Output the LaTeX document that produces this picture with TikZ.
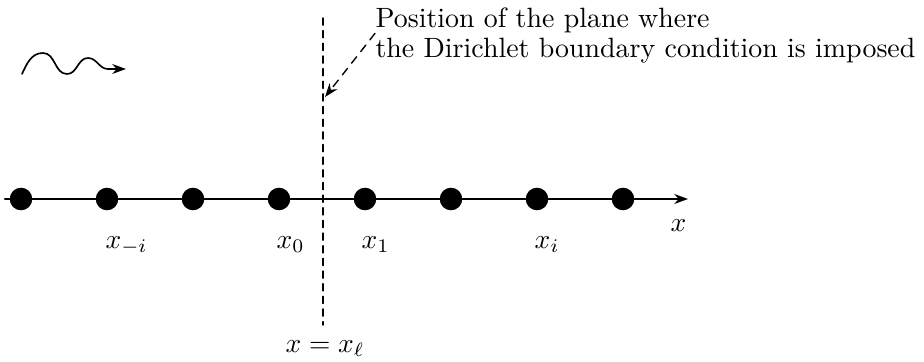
\documentclass[tikz,border=0pt]{standalone}
\usepackage{amsmath,amssymb}
\usepackage{tikz}
\usetikzlibrary{calc,positioning,arrows.meta}

\begin{document}
\begin{tikzpicture}[x=0.3636pt,y=0.3636pt,>={Stealth[length=5pt,width=3.6pt]},line cap=round,
  site/.style={circle,fill=black,inner sep=0pt,minimum size=8.2pt},
  lbl/.style={anchor=base west,inner sep=0pt}]
\useasboundingbox (0,0) rectangle (924,361);
\coordinate (ax0) at (5,162); \coordinate (ax1) at (688,162);
\coordinate (pl0) at (323,343); \coordinate (pl1) at (323,36); \coordinate (ptr) at (325,264);
\coordinate (wv0) at (22,287); \coordinate (wv1) at (126,292);
\draw[->,line width=0.75pt] (ax0)--(ax1);
\draw[dash pattern=on 2.6pt off 2pt,line width=0.5pt] (pl0)--(pl1);
\foreach \i in {0,...,7} \node[site] (s\i) at (21+86*\i,162) {};
\node[lbl] (xm) at ($(s1)+(-2,-49)$) {$x_{-i}$};
\node[lbl] (x0) at ($(s3)+(-3,-49)$) {$x_0$};
\node[lbl] (x1) at ($(s4)+(-4,-49)$) {$x_1$};
\node[lbl] (xi) at ($(s6)+(-3,-49)$) {$x_i$};
\node[lbl] (xax) at ($(ax1)+(-18,-32)$) {$x$};
\node[anchor=base,inner sep=0pt] (xell) at ($(pl1)+(2,-27)$) {$x = x_\ell$};
\node[anchor=north west,inner sep=0pt,align=left,font=\fontsize{10.15pt}{11pt}\selectfont] (note) at (375,354)
  {Position of the plane where\\the Dirichlet boundary condition is imposed};
\draw[->,dash pattern=on 3pt off 2.4pt,line width=0.5pt] ($(note.west)+(0,2)$)--(ptr);
% incoming wave
\draw[->,line width=0.6pt] (wv0) to[out=65,in=180] (43,308) to[out=0,in=180] (67,287)
  to[out=0,in=180] (88,303) to[out=0,in=180] (108,292) -- (wv1);
\end{tikzpicture}
\end{document}
